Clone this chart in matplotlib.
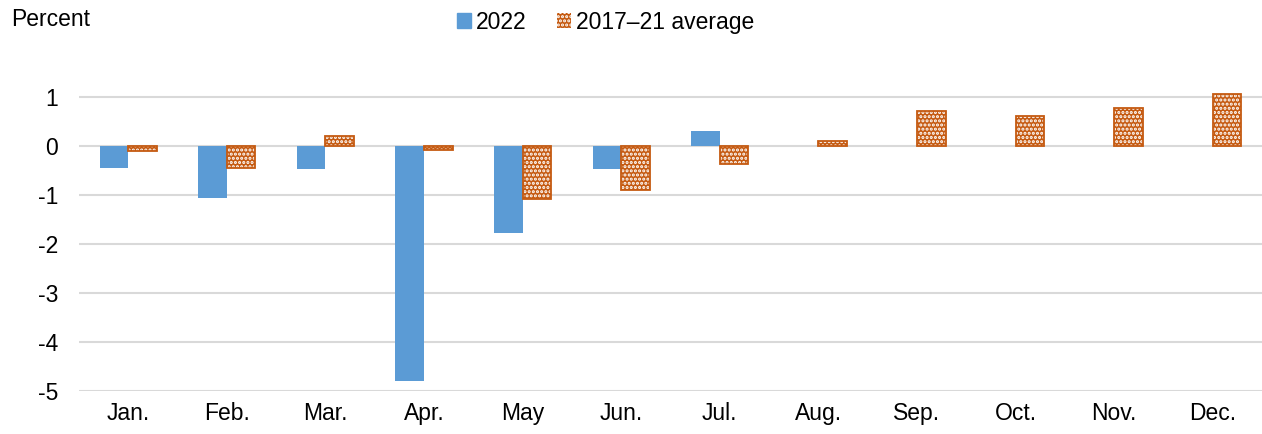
import matplotlib
matplotlib.use("Agg")
import matplotlib.pyplot as plt
import numpy as np
from matplotlib.patches import Patch

months = ["Jan.", "Feb.", "Mar.", "Apr.", "May", "Jun.", "Jul.", "Aug.", "Sep.", "Oct.", "Nov.", "Dec."]
y2022 = [-0.45, -1.06, -0.47, -4.8, -1.78, -0.47, 0.3, 0.0, np.nan, np.nan, np.nan, np.nan]
avg_17_21 = [-0.1, -0.45, 0.2, -0.08, -1.08, -0.9, -0.37, 0.1, 0.71, 0.61, 0.77, 1.06]
yticks = [1, 0, -1, -2, -3, -4, -5]

plt.rcParams['font.family'] = ['Liberation Sans', 'DejaVu Sans']
plt.rcParams['hatch.linewidth'] = 1.5

blue = '#5B9BD5'
orange = '#C55A11'
fs = 16.5
hatch = '....'

fig = plt.figure(figsize=(12.62, 4.34), dpi=100)
ax = fig.add_axes([0.0626, 0.099, 0.9374, 0.779])

x = np.arange(len(months))
w = 0.29
ax.bar(x - w/2, y2022, width=w, color=blue, zorder=3)
ax.bar(x + w/2, avg_17_21, width=w, facecolor=orange, edgecolor='white', hatch=hatch, linewidth=0, zorder=3)
ax.bar(x + w/2, avg_17_21, width=w, facecolor='none', edgecolor=orange, linewidth=1.3, zorder=4)

ax.set_xlim(-0.5, len(months) - 0.5)
ax.set_ylim(-5, 1.9)
ax.set_yticks(yticks)
ax.set_yticklabels([str(t) for t in yticks])
ax.set_xticks(x)
ax.set_xticklabels(months)
ax.tick_params(axis='both', length=0, labelsize=fs, colors='black')
ax.tick_params(axis='y', pad=15)
ax.tick_params(axis='x', pad=8)
ax.yaxis.grid(True, color='#D9D9D9', linewidth=1.5, zorder=0)
ax.set_axisbelow(True)
for s in ax.spines.values():
    s.set_visible(False)

fig.text(0.009, 0.955, "Percent", fontsize=fs, va='center', ha='left')

handles = [Patch(facecolor=blue, edgecolor=blue, label='2022'),
           Patch(facecolor=orange, edgecolor='white', hatch=hatch, linewidth=0, label='2017\u201321 average')]
fig.legend(handles=handles, loc='center', bbox_to_anchor=(0.48, 0.949), ncol=2, frameon=False,
           fontsize=fs, handlelength=0.61, handleheight=0.61, handletextpad=0.22, columnspacing=1.35)

fig.savefig("out.png", dpi=100)
